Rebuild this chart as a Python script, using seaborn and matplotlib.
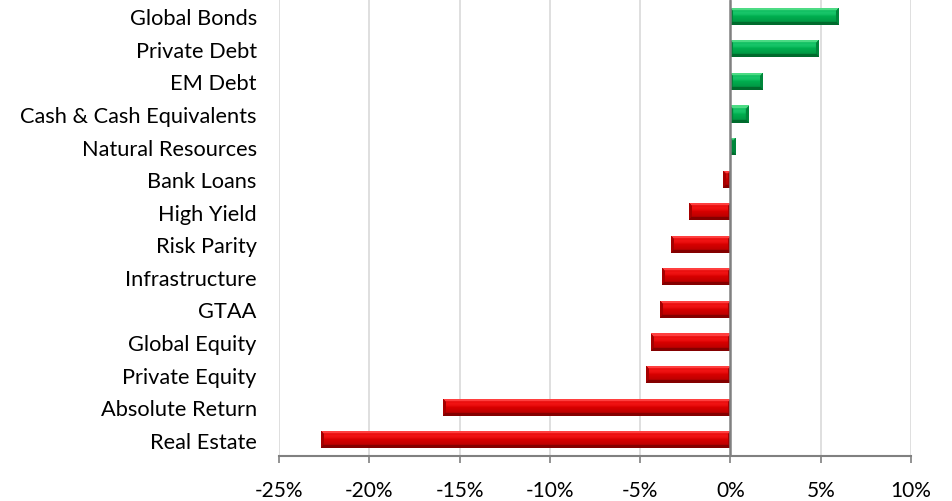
import numpy as np
import pandas as pd
import matplotlib
matplotlib.use("Agg")
import matplotlib.pyplot as plt
import seaborn as sns

categories = [
    "Global Bonds", "Private Debt", "EM Debt", "Cash & Cash Equivalents",
    "Natural Resources", "Bank Loans", "High Yield", "Risk Parity",
    "Infrastructure", "GTAA", "Global Equity", "Private Equity",
    "Absolute Return", "Real Estate",
]
returns_pct = [6.0, 4.9, 1.8, 1.0, 0.3, -0.4, -2.3, -3.3, -3.8, -3.9, -4.4, -4.7, -15.9, -22.7]
x_ticks = [-25, -20, -15, -10, -5, 0, 5, 10]
x_tick_labels = ["-25%", "-20%", "-15%", "-10%", "-5%", "0%", "5%", "10%"]

df = pd.DataFrame({"asset": categories, "ret": returns_pct})
df["sign"] = np.where(df["ret"] >= 0, "pos", "neg")

sns.set_theme(style="white")
plt.rcParams["font.family"] = ["Lato", "DejaVu Sans"]

fig = plt.figure(figsize=(9.52, 5.02), dpi=100)
ax = fig.add_axes([279 / 952, 45 / 502, 632 / 952, 456 / 502])

palette = {"pos": "#00b050", "neg": "#d90000"}
sns.barplot(data=df, y="asset", x="ret", hue="sign", palette=palette,
            dodge=False, legend=False, width=0.53, ax=ax, orient="h",
            order=categories)

ax.set_xlim(-25, 10)
ax.set_ylim(len(categories) - 0.5, -0.5)
ax.set_xticks(x_ticks)
ax.set_xticklabels(x_tick_labels)
ax.set_xlabel("")
ax.set_ylabel("")

# grid and spines
for x in x_ticks:
    if x != 0:
        ax.axvline(x, color="#d9d9d9", lw=1.2, zorder=0)
ax.axvline(0, color="#808080", lw=1.8, zorder=4)
for s in ["left", "right", "top"]:
    ax.spines[s].set_visible(False)
ax.spines["bottom"].set_color("#808080")
ax.spines["bottom"].set_linewidth(1.5)
ax.tick_params(axis="x", direction="out", length=5, width=1.2, color="#808080",
               pad=12, labelsize=15, labelcolor="black", bottom=True)
ax.tick_params(axis="y", length=0, pad=16, labelsize=15.7, labelcolor="black")

# bevelled bar faces
styles = {
    "pos": dict(light=(0.30, 0.86, 0.52), face=(0.0, 0.69, 0.31), mid=(0.10, 0.78, 0.42),
                dark=(0.0, 0.42, 0.18)),
    "neg": dict(light=(1.0, 0.25, 0.25), face=(0.85, 0.0, 0.0), mid=(0.95, 0.08, 0.08),
                dark=(0.52, 0.0, 0.0)),
}
fig.canvas.draw()
to_disp = ax.transData
for patch in list(ax.patches):
    bx, by = patch.get_x(), patch.get_y()
    bw, bh = patch.get_width(), patch.get_height()
    if bw == 0:
        continue
    x0, x1 = sorted([bx, bx + bw])
    y0, y1 = sorted([by, by + bh])
    (px0, py0), (px1, py1) = to_disp.transform([(x0, y0), (x1, y1)])
    wpx = max(int(round(abs(px1 - px0))), 2)
    hpx = max(int(round(abs(py1 - py0))), 2)
    st = styles["pos" if bw > 0 else "neg"]
    light, face, mid, dark = (np.array(st[k]) for k in ("light", "face", "mid", "dark"))
    img = np.zeros((hpx, wpx, 3))
    b = 3.0
    for r in range(hpx):
        t = r / max(hpx - 1, 1)
        # vertical body shading: highlight above centre, darker toward the bottom
        if t < 0.5:
            k = min(max(1 - abs(t - 0.3) / 0.3, 0.0), 1.0)
            c = face + (mid - face) * k
        else:
            c = face + (dark - face) * ((t - 0.5) / 0.5) * 0.5
        img[r, :, :] = c
    rr, cc = np.mgrid[0:hpx, 0:wpx]
    dtop = rr + 0.5
    dbot = hpx - rr - 0.5
    dl = cc + 0.5
    dr = wpx - cc - 0.5
    dmin = np.minimum.reduce([dtop, dbot, dl, dr])
    edge = dmin < b
    top_edge = edge & (dtop == dmin)
    bot_edge = edge & (dbot == dmin)
    side_edge = edge & ~top_edge & ~bot_edge
    img[top_edge] = light
    img[bot_edge] = dark
    img[side_edge] = dark * 0.6 + face * 0.4
    patch.set_facecolor("none")
    patch.set_edgecolor("none")
    im = ax.imshow(img, extent=(x0, x1, y1, y0), aspect="auto", zorder=3,
                   interpolation="bilinear")
    im.set_clip_path(patch)

ax.set_xlim(-25, 10)
ax.set_ylim(len(categories) - 0.5, -0.5)
fig.savefig("out.png", dpi=100)
